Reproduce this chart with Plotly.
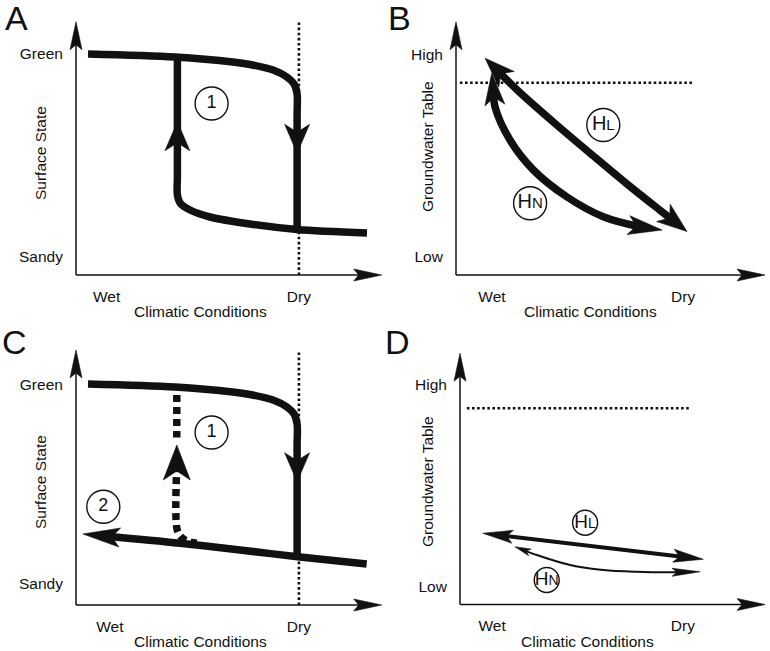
import math
import plotly.graph_objects as go

FIG_W, FIG_H = 770, 651
SX, SY = 30.0, 25.0          # pixels per schematic unit (x, y)
FONT = "Liberation Sans, Arial, Helvetica, sans-serif"
INK = "#111111"

# ------------------------------------------------------------------ data
# schematic units: x = climatic conditions (wet -> dry), y = state / water table
xtick_text = ["Wet", "Dry"]

# Panel A -- surface state hysteresis
A_upper_x = [0.40, 3.30, 5.23, 5.80, 6.57, 7.03, 7.27, 7.37, 7.37, 7.37]
A_upper_y = [8.84, 8.72, 8.52, 8.42, 8.20, 7.92, 7.64, 7.24, 6.40, 1.84]
A_lower_x = [9.70, 7.37, 5.80, 4.47, 3.80, 3.47, 3.38, 3.38, 3.38]
A_lower_y = [1.68, 1.82, 2.04, 2.32, 2.60, 2.88, 3.20, 4.00, 8.72]
A_mid_arrow_x = [3.38, 7.37]
A_mid_arrow_y = [6.13, 4.87]
A_mid_arrow_dir = [1, -1]
A_threshold_x = [7.43, 7.43]
A_threshold_y = [0.0, 10.2]
A_label_x = [4.52]
A_label_y = [6.86]
A_label_text = ["1"]
A_xtick_vals = [1.02, 7.43]
A_ytick_vals = [8.84, 0.73]
A_ytick_text = ["Green", "Sandy"]
A_axis_len = [10.19, 10.13]

# Panel B -- groundwater table hysteresis
B_HL_x = [0.97, 2.13, 3.33, 4.57, 5.70, 6.80, 7.70]
B_HL_y = [8.67, 7.30, 6.03, 4.77, 3.64, 2.59, 1.74]
B_HN_x = [1.19, 1.30, 1.80, 2.58, 3.69, 4.91, 6.13, 6.87]
B_HN_y = [8.07, 6.73, 5.40, 4.20, 3.13, 2.33, 1.93, 1.80]
B_level_x = [0.13, 7.90]
B_level_y = [7.69, 7.69]
B_label_x = [4.91, 2.47]
B_label_y = [6.00, 2.87]
B_label_text = ["H<span style='font-size:15px'>L</span>",
                "H<span style='font-size:15px'>N</span>"]
B_xtick_vals = [1.20, 7.57]
B_ytick_vals = [8.83, 0.73]
B_ytick_text = ["High", "Low"]
B_axis_len = [10.30, 10.13]

# Panel C -- surface state with degraded recovery
C_upper_x = [0.40, 3.30, 5.23, 5.80, 6.57, 7.03, 7.27, 7.37, 7.37, 7.37]
C_upper_y = [8.84, 8.72, 8.52, 8.42, 8.20, 7.92, 7.64, 7.24, 6.40, 1.90]
C_lower_x = [9.69, 7.39, 5.47, 3.47, 0.23]
C_lower_y = [1.64, 1.93, 2.20, 2.47, 2.84]
C_dash_x = [3.36, 3.36, None, 3.36, 3.36, 3.47, 3.70, 4.02]
C_dash_y = [8.40, 6.70, None, 5.60, 3.08, 2.76, 2.56, 2.47]
C_mid_arrow_x = [3.36, 7.37]
C_mid_arrow_y = [6.40, 4.93]
C_mid_arrow_dir = [1, -1]
C_threshold_x = [7.43, 7.43]
C_threshold_y = [0.0, 10.2]
C_label_x = [4.52, 0.91]
C_label_y = [6.90, 3.93]
C_label_text = ["1", "2"]
C_xtick_vals = [1.13, 7.43]
C_ytick_vals = [8.80, 0.87]
C_ytick_text = ["Green", "Sandy"]
C_axis_len = [10.19, 10.20]

# Panel D -- groundwater table, weak hysteresis
D_HL_x = [0.76, 8.11]
D_HL_y = [2.85, 1.81]
D_HN_x = [1.83, 2.56, 3.67, 4.78, 5.89, 7.00, 8.00]
D_HN_y = [2.31, 1.98, 1.58, 1.38, 1.31, 1.29, 1.31]
D_level_x = [0.23, 7.67]
D_level_y = [7.85, 7.85]
D_label_x = [4.17, 2.89]
D_label_y = [3.27, 0.98]
D_label_text = ["H<span style='font-size:14px'>L</span>",
                "H<span style='font-size:14px'>N</span>"]
D_xtick_vals = [1.07, 7.43]
D_ytick_vals = [8.78, 0.71]
D_ytick_text = ["High", "Low"]
D_axis_len = [10.17, 10.05]

# ------------------------------------------------------------------ helpers
fig = go.Figure()


def head_shape(tx, ty, rx, ry, L, Wd, N):
    dx, dy = (tx - rx) * SX, (ty - ry) * SY
    n = math.hypot(dx, dy)
    ux, uy = dx / n, dy / n
    px, py = -uy, ux
    pts = [(0, 0),
           (-L * ux + Wd / 2 * px, -L * uy + Wd / 2 * py),
           (-(L - N) * ux, -(L - N) * uy),
           (-L * ux - Wd / 2 * px, -L * uy - Wd / 2 * py),
           (0, 0)]
    xs = [tx + a / SX for a, b in pts]
    ys = [ty + b / SY for a, b in pts]
    return xs, ys, ux, uy


def add_head(ax, tx, ty, rx, ry, L, Wd, N):
    xs, ys, ux, uy = head_shape(tx, ty, rx, ry, L, Wd, N)
    fig.add_trace(go.Scatter(x=xs, y=ys, xaxis=ax[0], yaxis=ax[1], mode="lines",
                             fill="toself", fillcolor=INK,
                             line=dict(color=INK, width=0.6),
                             hoverinfo="skip", showlegend=False))
    return ux, uy


def add_path(ax, x, y, width, dash=None, end=None, start=None, shape="spline"):
    x = list(x)
    y = list(y)
    if end is not None:
        L, Wd, N = end
        ux, uy = add_head(ax, x[-1], y[-1], x[-2], y[-2], L, Wd, N)
        x[-1] = x[-1] - 0.5 * L * ux / SX
        y[-1] = y[-1] - 0.5 * L * uy / SY
    if start is not None:
        L, Wd, N = start
        ux, uy = add_head(ax, x[0], y[0], x[1], y[1], L, Wd, N)
        x[0] = x[0] - 0.5 * L * ux / SX
        y[0] = y[0] - 0.5 * L * uy / SY
    line = dict(color=INK, width=width, shape=shape)
    if shape == "spline":
        line["smoothing"] = 0.9
    if dash:
        line["dash"] = dash
    fig.add_trace(go.Scatter(x=x, y=y, xaxis=ax[0], yaxis=ax[1], mode="lines",
                             line=line, connectgaps=False,
                             hoverinfo="skip", showlegend=False))


def add_axes(ax, lens):
    head = (28, 12, 5)
    add_path(ax, [0, 0], [0, lens[1]], 1.5, end=head, shape="linear")
    add_path(ax, [0, lens[0]], [0, 0], 1.5, end=head, shape="linear")


def add_labels(ax, xs, ys, texts, size, fsize):
    fig.add_trace(go.Scatter(x=xs, y=ys, xaxis=ax[0], yaxis=ax[1],
                             mode="markers+text", text=texts,
                             textposition="middle center",
                             textfont=dict(family=FONT, size=fsize, color=INK),
                             marker=dict(symbol="circle-open", size=size, color=INK,
                                         line=dict(width=1.4, color=INK)),
                             cliponaxis=False, hoverinfo="skip", showlegend=False))


DOT = "2.6px,2.5px"
THICK = 7.5

# ---- Panel A
axA = ("x", "y")
add_axes(axA, A_axis_len)
add_path(axA, A_threshold_x, A_threshold_y, 2.6, dash=DOT, shape="linear")
add_path(axA, A_upper_x, A_upper_y, THICK)
add_path(axA, A_lower_x, A_lower_y, THICK)
for mx, my, md in zip(A_mid_arrow_x, A_mid_arrow_y, A_mid_arrow_dir):
    add_head(axA, mx, my, mx, my - md, 29, 25, 8)
add_labels(axA, A_label_x, A_label_y, A_label_text, 33, 18)

# ---- Panel B
axB = ("x2", "y2")
add_axes(axB, B_axis_len)
add_path(axB, B_level_x, B_level_y, 2.6, dash=DOT, shape="linear")
add_path(axB, B_HL_x, B_HL_y, THICK, end=(30, 22, 8), start=(30, 22, 8))
add_path(axB, B_HN_x, B_HN_y, THICK, end=(34, 19, 8), start=(32, 20, 8))
add_labels(axB, B_label_x, B_label_y, B_label_text, 33, 20)

# ---- Panel C
axC = ("x3", "y3")
add_axes(axC, C_axis_len)
add_path(axC, C_threshold_x, C_threshold_y, 2.6, dash=DOT, shape="linear")
add_path(axC, C_upper_x, C_upper_y, THICK)
add_path(axC, C_lower_x, C_lower_y, THICK, end=(37, 19, 8))
add_path(axC, C_dash_x, C_dash_y, THICK, dash="7px,5px")
C_head_sizes = [(35, 27, 9), (29, 25, 8)]
for mx, my, md, hs in zip(C_mid_arrow_x, C_mid_arrow_y, C_mid_arrow_dir, C_head_sizes):
    add_head(axC, mx, my, mx, my - md, *hs)
add_labels(axC, C_label_x, C_label_y, C_label_text, 33, 18)

# ---- Panel D
axD = ("x4", "y4")
add_axes(axD, D_axis_len)
add_path(axD, D_level_x, D_level_y, 2.6, dash=DOT, shape="linear")
add_path(axD, D_HL_x, D_HL_y, 4, end=(30, 13, 6), start=(30, 13, 6), shape="linear")
add_path(axD, D_HN_x, D_HN_y, 2, end=(28, 8, 5), start=(16, 7, 4))
add_labels(axD, D_label_x, D_label_y, D_label_text, 25, 19)

# ------------------------------------------------------------------ layout
panels = [
    ("", 76, 275, [-0.5, 10.35], [-0.4, 10.5], A_xtick_vals, A_ytick_vals, A_ytick_text),
    ("2", 456, 275, [-0.3, 10.4], [-0.4, 10.5], B_xtick_vals, B_ytick_vals, B_ytick_text),
    ("3", 76, 605, [-0.5, 10.35], [-0.4, 10.4], C_xtick_vals, C_ytick_vals, C_ytick_text),
    ("4", 460, 604.5, [-0.3, 10.25], [-0.4, 10.3], D_xtick_vals, D_ytick_vals, D_ytick_text),
]
tick_font = dict(family=FONT, size=15.5, color=INK)
layout_axes = {}
for suf, ox, oy, xr, yr, xt, yt, ytt in panels:
    xd = [(ox + xr[0] * SX) / FIG_W, (ox + xr[1] * SX) / FIG_W]
    yd = [1 - (oy - yr[0] * SY) / FIG_H, 1 - (oy - yr[1] * SY) / FIG_H]
    layout_axes["xaxis" + suf] = dict(
        domain=xd, range=xr, anchor="free", position=1 - oy / FIG_H,
        showgrid=False, zeroline=False, showline=False,
        tickvals=xt, ticktext=xtick_text, ticks="outside", ticklen=7,
        tickcolor="rgba(0,0,0,0)", tickfont=tick_font, fixedrange=True,
        automargin=False)
    layout_axes["yaxis" + suf] = dict(
        domain=yd, range=yr, anchor="free", position=ox / FIG_W,
        showgrid=False, zeroline=False, showline=False,
        tickvals=yt, ticktext=ytt, ticks="outside", ticklen=10,
        tickcolor="rgba(0,0,0,0)", tickfont=tick_font, fixedrange=True,
        automargin=False)


def px_ann(text, x, y, size, angle=0):
    return dict(text=text, x=x / FIG_W, y=1 - y / FIG_H, xref="paper", yref="paper",
                showarrow=False, textangle=angle, xanchor="center", yanchor="middle",
                font=dict(family=FONT, size=size, color=INK))


annotations = [
    px_ann("A", 16, 18, 34), px_ann("B", 400, 18, 34),
    px_ann("C", 14, 342, 34), px_ann("D", 398, 342, 34),
    px_ann("Surface State", 40, 153, 15.5, -90),
    px_ann("Surface State", 40, 482, 15.5, -90),
    px_ann("Groundwater Table", 427, 147, 15.5, -90),
    px_ann("Groundwater Table", 427, 482, 15.5, -90),
    px_ann("Climatic Conditions", 201, 311, 15.5),
    px_ann("Climatic Conditions", 590, 311, 15.5),
    px_ann("Climatic Conditions", 201, 641, 15.5),
    px_ann("Climatic Conditions", 587, 641, 15.5),
]

fig.update_layout(width=FIG_W, height=FIG_H, autosize=False,
                  margin=dict(l=0, r=0, t=0, b=0),
                  paper_bgcolor="white", plot_bgcolor="rgba(0,0,0,0)",
                  showlegend=False, annotations=annotations, **layout_axes)

fig.write_html("out.html",
               config={"displayModeBar": False, "staticPlot": True},
               post_script="document.body.style.margin='0px';"
                           "document.body.style.padding='0px';")
